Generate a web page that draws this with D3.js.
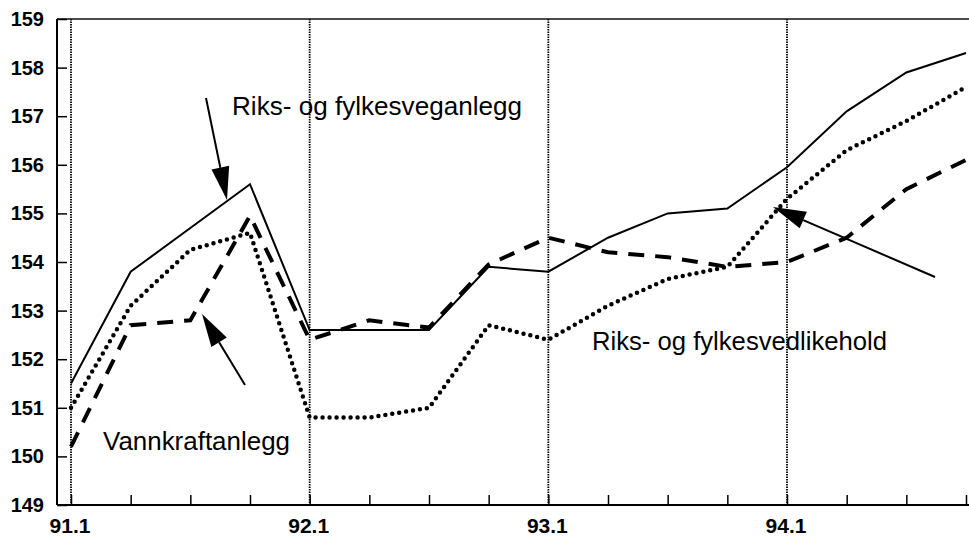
<!DOCTYPE html>
<html>
<head>
<meta charset="utf-8">
<script src="https://cdn.jsdelivr.net/npm/d3@7"></script>
<style>
  body { margin: 0; background: #fff; }
  svg { display: block; }
</style>
</head>
<body>
<div id="chart"></div>
<script>
// quarters 91.1 .. 94.4
var quarters = ['91.1', '91.2', '91.3', '91.4', '92.1', '92.2', '92.3', '92.4',
  '93.1', '93.2', '93.3', '93.4', '94.1', '94.2', '94.3', '94.4'];
var yearLabels = ['91.1', '92.1', '93.1', '94.1'];
var yTicks = [149, 150, 151, 152, 153, 154, 155, 156, 157, 158, 159];

var veganlegg = [151.5, 153.8, 154.7, 155.6, 152.6, 152.6, 152.6, 153.9,
  153.8, 154.5, 155.0, 155.1, 155.95, 157.1, 157.9, 158.3];
var vedlikehold = [151.0, 153.1, 154.25, 154.6, 150.8, 150.8, 151.0, 152.7,
  152.4, 153.1, 153.65, 153.9, 155.3, 156.3, 156.9, 157.6];
var vannkraft = [150.2, 152.7, 152.8, 154.95, 152.4, 152.8, 152.65, 153.95,
  154.5, 154.2, 154.1, 153.9, 154.0, 154.5, 155.5, 156.1];

var W = 969, H = 537;
var mLeft = 57, mTop = 19, mBottom = 505;

var svg = d3.select('#chart').append('svg')
  .attr('width', W)
  .attr('height', H)
  .style('font-family', '"Liberation Sans", Arial, sans-serif');

var x = d3.scalePoint().domain(quarters).range([71, 966]);
var y = d3.scaleLinear().domain([149, 159]).range([mBottom, mTop]);

// year grid lines (fine dotted)
svg.selectAll('line.grid')
  .data(yearLabels)
  .enter().append('line')
  .attr('class', 'grid')
  .attr('x1', function(d) { return x(d); })
  .attr('x2', function(d) { return x(d); })
  .attr('y1', mTop)
  .attr('y2', mBottom)
  .attr('stroke', '#000')
  .attr('stroke-width', 1.8)
  .attr('stroke-dasharray', '1.5 1');

// frame: left axis, top line, bottom axis
svg.append('line').attr('x1', mLeft).attr('x2', mLeft).attr('y1', mTop).attr('y2', mBottom)
  .attr('stroke', '#000').attr('stroke-width', 2);
svg.append('line').attr('x1', mLeft).attr('x2', W).attr('y1', mTop).attr('y2', mTop)
  .attr('stroke', '#111').attr('stroke-width', 1.5);

var yAxis = d3.axisRight(y).tickValues(yTicks).tickSize(10).tickFormat('');
svg.append('g')
  .attr('transform', 'translate(' + mLeft + ',0)')
  .call(yAxis)
  .call(function(g) {
    g.select('.domain').remove();
    g.selectAll('line').attr('stroke-width', 1.5);
  });

svg.selectAll('text.ylab')
  .data(yTicks)
  .enter().append('text')
  .attr('class', 'ylab')
  .attr('x', 44)
  .attr('y', function(d) { return y(d); })
  .attr('dy', '0.35em')
  .attr('text-anchor', 'end')
  .attr('font-size', 20)
  .attr('font-weight', 'bold')
  .text(function(d) { return d; });

var xAxis = d3.axisTop(x).tickSize(10).tickFormat('');
svg.append('g')
  .attr('transform', 'translate(0,' + mBottom + ')')
  .call(xAxis)
  .call(function(g) {
    g.select('.domain').remove();
    g.selectAll('line').attr('stroke-width', 1.5);
  });
svg.append('line').attr('x1', mLeft).attr('x2', W).attr('y1', mBottom).attr('y2', mBottom)
  .attr('stroke', '#000').attr('stroke-width', 2);

svg.selectAll('text.xlab')
  .data(yearLabels)
  .enter().append('text')
  .attr('class', 'xlab')
  .attr('x', function(d) { return x(d) - 1; })
  .attr('y', 533)
  .attr('text-anchor', 'middle')
  .attr('font-size', 21)
  .attr('font-weight', 'bold')
  .text(function(d) { return d; });

// series
var line = d3.line()
  .x(function(d, i) { return x(quarters[i]); })
  .y(function(d) { return y(d); });

svg.append('path')
  .attr('d', line(vedlikehold))
  .attr('fill', 'none')
  .attr('stroke', '#000')
  .attr('stroke-width', 4.5)
  .attr('stroke-linecap', 'round')
  .attr('stroke-dasharray', '0 7');

svg.append('path')
  .attr('d', line(vannkraft))
  .attr('fill', 'none')
  .attr('stroke', '#000')
  .attr('stroke-width', 4)
  .attr('stroke-dasharray', '16 11');

svg.append('path')
  .attr('d', line(veganlegg))
  .attr('fill', 'none')
  .attr('stroke', '#000')
  .attr('stroke-width', 2);

// annotations
var labels = [
  {text: 'Riks- og fylkesveganlegg', x: 232, y: 115, len: 290},
  {text: 'Vannkraftanlegg', x: 103, y: 450, len: 187},
  {text: 'Riks- og fylkesvedlikehold', x: 592, y: 350, len: 295}
];
svg.selectAll('text.note')
  .data(labels)
  .enter().append('text')
  .attr('class', 'note')
  .attr('x', function(d) { return d.x; })
  .attr('y', function(d) { return d.y; })
  .attr('font-size', 26)
  .attr('textLength', function(d) { return d.len; })
  .attr('lengthAdjust', 'spacingAndGlyphs')
  .text(function(d) { return d.text; });

var arrows = [
  {x1: 206, y1: 98, x2: 227, y2: 200},
  {x1: 245, y1: 385, x2: 202, y2: 314},
  {x1: 935, y1: 277, x2: 773, y2: 207}
];
arrows.forEach(function(a) {
  var dx = a.x2 - a.x1, dy = a.y2 - a.y1;
  var len = Math.sqrt(dx * dx + dy * dy);
  var ux = dx / len, uy = dy / len;
  var hl = 33, hw = 9;
  var bx = a.x2 - ux * hl, by = a.y2 - uy * hl;
  svg.append('line')
    .attr('x1', a.x1).attr('y1', a.y1).attr('x2', bx).attr('y2', by)
    .attr('stroke', '#000').attr('stroke-width', 2);
  svg.append('path')
    .attr('d', 'M' + a.x2 + ',' + a.y2 +
      'L' + (bx - uy * hw) + ',' + (by + ux * hw) +
      'L' + (bx + uy * hw) + ',' + (by - ux * hw) + 'Z')
    .attr('fill', '#000');
});
</script>
</body>
</html>
